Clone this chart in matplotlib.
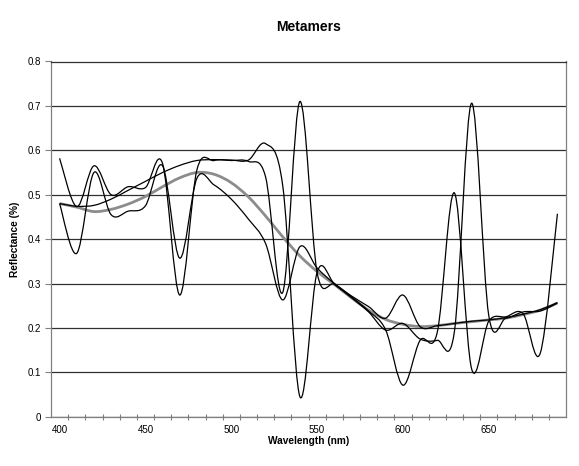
import numpy as np
import matplotlib
matplotlib.use("Agg")
import matplotlib.pyplot as plt
from matplotlib.path import Path
from matplotlib.patches import PathPatch
from matplotlib.ticker import FixedLocator

plt.rcParams['font.family'] = ['Liberation Sans', 'DejaVu Sans']

# wavelengths, one category every 10 nm
wavelength = list(range(400, 700, 10))

# grey reference spectrum
reference = [0.480, 0.472, 0.462, 0.467, 0.479, 0.496, 0.518, 0.538, 0.550, 0.546,
             0.527, 0.495, 0.452, 0.405, 0.362, 0.327, 0.298, 0.268, 0.240, 0.219,
             0.208, 0.203, 0.205, 0.210, 0.214, 0.218, 0.222, 0.230, 0.240, 0.256]

# three black metamers
metamer_a = [0.480, 0.474, 0.476, 0.490, 0.510, 0.530, 0.550, 0.566, 0.577, 0.579,
             0.578, 0.578, 0.615, 0.520, 0.045, 0.325, 0.300, 0.270, 0.238, 0.195,
             0.071, 0.172, 0.190, 0.504, 0.108, 0.215, 0.225, 0.232, 0.143, 0.457]
metamer_b = [0.582, 0.473, 0.565, 0.500, 0.518, 0.516, 0.570, 0.274, 0.556, 0.577,
             0.577, 0.575, 0.540, 0.280, 0.710, 0.325, 0.298, 0.268, 0.236, 0.195,
             0.210, 0.175, 0.172, 0.192, 0.706, 0.228, 0.222, 0.236, 0.238, 0.256]
metamer_c = [0.480, 0.368, 0.550, 0.455, 0.463, 0.475, 0.565, 0.357, 0.537, 0.522,
             0.490, 0.445, 0.390, 0.263, 0.383, 0.335, 0.300, 0.272, 0.248, 0.222,
             0.274, 0.203, 0.205, 0.210, 0.215, 0.218, 0.223, 0.231, 0.241, 0.257]

x_labels = [400, 450, 500, 550, 600, 650]
y_ticks = [0, 0.1, 0.2, 0.3, 0.4, 0.5, 0.6, 0.7, 0.8]


def smooth_path(xs, ys):
    # Excel-style smoothed line: Catmull-Rom segments as cubic Beziers
    pts = np.column_stack([xs, ys]).astype(float)
    ext = np.vstack([pts[0], pts, pts[-1]])
    verts = [pts[0]]
    codes = [Path.MOVETO]
    for i in range(len(pts) - 1):
        p0, p1, p2, p3 = ext[i], ext[i + 1], ext[i + 2], ext[i + 3]
        verts += [p1 + (p2 - p0) / 6, p2 - (p3 - p1) / 6, p2]
        codes += [Path.CURVE4] * 3
    return Path(verts, codes)


fig = plt.figure(figsize=(5.79, 4.66), dpi=100)
ax = fig.add_axes([51 / 579, 1 - 416.7 / 466, 515 / 579, 355.2 / 466])

ax.set_xlim(395, 695)
ax.set_ylim(0, 0.8)

ax.add_patch(PathPatch(smooth_path(wavelength, reference), fill=False,
                       edgecolor='#8c8c8c', lw=2.0, zorder=3))
for series in (metamer_a, metamer_b, metamer_c):
    ax.add_patch(PathPatch(smooth_path(wavelength, series), fill=False,
                           edgecolor='black', lw=0.9, zorder=4))

ax.set_yticks(y_ticks)
ax.set_yticklabels(['0' if v == 0 else f'{v:g}' for v in y_ticks])
ax.yaxis.grid(True, color='#303030', lw=0.9)
ax.set_axisbelow(True)

ax.set_xticks(x_labels)
ax.xaxis.set_minor_locator(FixedLocator(np.arange(405, 695, 10)))
ax.tick_params(axis='x', which='major', length=0, labelsize=7, pad=6)
ax.tick_params(axis='x', which='minor', direction='inout', length=5,
               color='#808080', width=0.8)
ax.tick_params(axis='y', labelsize=7, length=4, color='#808080', width=0.8, pad=3)

for side in ('left', 'bottom', 'right'):
    ax.spines[side].set_color('#808080')
    ax.spines[side].set_linewidth(0.9)
ax.spines['top'].set_color('#303030')
ax.spines['top'].set_linewidth(0.9)

fig.text(308.5 / 579, 1 - 27 / 466, 'Metamers', ha='center', va='center',
         fontsize=10, fontweight='bold')
fig.text(308.5 / 579, 1 - 441 / 466, 'Wavelength (nm)', ha='center', va='center',
         fontsize=7.3, fontweight='bold')
fig.text(15 / 579, 1 - 239 / 466, 'Reflectance (%)', ha='center', va='center',
         rotation=90, fontsize=7.3, fontweight='bold')

fig.savefig('out.png', dpi=100)
